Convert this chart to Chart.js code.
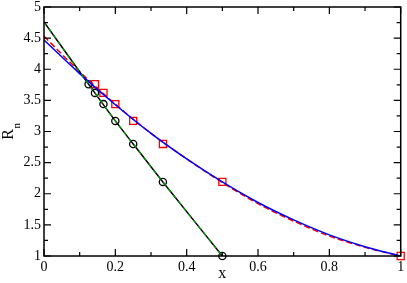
<!DOCTYPE html>
<html>
<head>
<meta charset="utf-8">
<script src="https://cdn.jsdelivr.net/npm/chart.js@4"></script>
<style>
  html, body { margin: 0; padding: 0; background: #fff; }
  #wrap { width: 407px; height: 283px; }
</style>
</head>
<body>
<div id="wrap"><canvas id="grafico" width="407" height="283"></canvas></div>
<script>
// datos
const xCirculos = [0.125, 0.1429, 0.1667, 0.2, 0.25, 0.3333, 0.5];
const yCirculos = [3.76, 3.62, 3.44, 3.17, 2.80, 2.19, 1.0];

const xCuadrados = [0.1429, 0.1667, 0.2, 0.25, 0.3333, 0.5, 1.0];
const yCuadrados = [3.76, 3.62, 3.44, 3.17, 2.80, 2.19, 1.0];

// recta negra (y verde discontinua) que pasa por los circulos
const xRecta = [0, 0.125, 0.2, 0.25, 0.3333, 0.5];
const yRecta = [4.76, 3.76, 3.17, 2.80, 2.19, 1.0];
const yRectaVerde = [4.76, 3.76, 3.17, 2.80, 2.19, 1.0];

const xCurvas = [0, 0.1, 0.2, 0.3, 0.4, 0.5, 0.6, 0.7, 0.8, 0.9, 1.0];
const yAzul = [4.47, 3.93, 3.43, 2.97, 2.56, 2.19, 1.86, 1.58, 1.34, 1.15, 1.0];
const yRoja = [4.53, 3.96, 3.44, 2.97, 2.56, 2.18, 1.84, 1.56, 1.32, 1.14, 1.0];

const ticksX = [0, 0.2, 0.4, 0.6, 0.8, 1];
const ticksY = [1, 1.5, 2, 2.5, 3, 3.5, 4, 4.5, 5];
const menoresX = [0.1, 0.3, 0.5, 0.7, 0.9];
const menoresY = [1.25, 1.75, 2.25, 2.75, 3.25, 3.75, 4.25, 4.75];

const puntos = (xs, ys) => xs.map((x, i) => ({ x: x, y: ys[i] }));

const fuente = "'Liberation Serif', 'DejaVu Serif', serif";

// marco y marcas hacia dentro, como en xmgrace
const marcoPlugin = {
    id: 'marco',
    afterDraw(chart) {
        const { ctx, chartArea: a, scales } = chart;
        ctx.save();
        ctx.strokeStyle = '#000';
        ctx.lineWidth = 1.5;
        ctx.strokeRect(a.left, a.top, a.right - a.left, a.bottom - a.top);
        ctx.lineWidth = 1.2;
        ctx.beginPath();
        const marcaX = (v, len) => {
            const px = scales.x.getPixelForValue(v);
            ctx.moveTo(px, a.bottom); ctx.lineTo(px, a.bottom - len);
            ctx.moveTo(px, a.top); ctx.lineTo(px, a.top + len);
        };
        const marcaY = (v, len) => {
            const py = scales.y.getPixelForValue(v);
            ctx.moveTo(a.left, py); ctx.lineTo(a.left + len, py);
            ctx.moveTo(a.right, py); ctx.lineTo(a.right - len, py);
        };
        ticksX.forEach(v => marcaX(v, 7));
        menoresX.forEach(v => marcaX(v, 4));
        ticksY.forEach(v => marcaY(v, 7));
        menoresY.forEach(v => marcaY(v, 4));
        ctx.stroke();

        // titulos de los ejes
        ctx.fillStyle = '#000';
        ctx.font = '16px ' + fuente;
        ctx.textAlign = 'center';
        ctx.textBaseline = 'alphabetic';
        ctx.fillText('x', (a.left + a.right) / 2, 278);

        ctx.translate(13, 134.5);
        ctx.rotate(-Math.PI / 2);
        ctx.fillText('R', 0, 0);
        ctx.font = '11px ' + fuente;
        ctx.textAlign = 'left';
        ctx.fillText('n', 6, 7);
        ctx.restore();
    }
};

new Chart(document.getElementById('grafico'), {
    type: 'scatter',
    data: {
        datasets: [
            {
                data: puntos(xRecta, yRectaVerde),
                showLine: true,
                borderColor: '#00a000',
                borderWidth: 1.2,
                borderDash: [4, 4],
                cubicInterpolationMode: 'monotone',
                pointRadius: 0,
                order: 1,
            },
            {
                data: puntos(xCurvas, yAzul),
                showLine: true,
                borderColor: '#0000ff',
                borderWidth: 1.5,
                cubicInterpolationMode: 'monotone',
                pointRadius: 0,
                order: 2,
            },
            {
                data: puntos(xRecta, yRecta),
                showLine: true,
                borderColor: '#000',
                borderWidth: 1.5,
                cubicInterpolationMode: 'monotone',
                pointRadius: 0,
                order: 3,
            },
            {
                data: puntos(xCurvas, yRoja),
                showLine: true,
                borderColor: '#ff0000',
                borderWidth: 1.5,
                borderDash: [6, 3],
                cubicInterpolationMode: 'monotone',
                pointRadius: 0,
                order: 4,
            },
            {
                data: puntos(xCirculos, yCirculos),
                pointStyle: 'circle',
                pointRadius: 3.6,
                borderColor: '#000',
                borderWidth: 1.3,
                backgroundColor: 'rgba(0,0,0,0)',
                clip: false,
                order: 5,
            },
            {
                data: puntos(xCuadrados, yCuadrados),
                pointStyle: 'rect',
                pointRadius: 5,
                borderColor: '#ff0000',
                borderWidth: 1.3,
                backgroundColor: 'rgba(0,0,0,0)',
                clip: false,
                order: 6,
            },
        ],
    },
    options: {
        responsive: false,
        animation: false,
        layout: { padding: { left: 0, right: 5, top: 7, bottom: 0 } },
        plugins: {
            legend: { display: false },
            tooltip: { enabled: false },
        },
        scales: {
            x: {
                type: 'linear',
                min: 0,
                max: 1,
                afterBuildTicks: s => { s.ticks = ticksX.map(v => ({ value: v })); },
                afterFit: s => { s.height = 27; s.paddingLeft = 0; s.paddingRight = 0; },
                grid: { display: false, drawTicks: false },
                border: { display: false },
                ticks: {
                    color: '#000',
                    padding: 3,
                    maxRotation: 0,
                    font: { family: fuente, size: 14 },
                    callback: v => String(v),
                },
            },
            y: {
                type: 'linear',
                min: 1,
                max: 5,
                afterBuildTicks: s => { s.ticks = ticksY.map(v => ({ value: v })); },
                afterFit: s => { s.width = 44; s.paddingTop = 0; s.paddingBottom = 0; },
                grid: { display: false, drawTicks: false },
                border: { display: false },
                ticks: {
                    color: '#000',
                    padding: 3,
                    font: { family: fuente, size: 14 },
                    callback: v => String(v),
                },
            },
        },
    },
    plugins: [marcoPlugin],
});
</script>
</body>
</html>
